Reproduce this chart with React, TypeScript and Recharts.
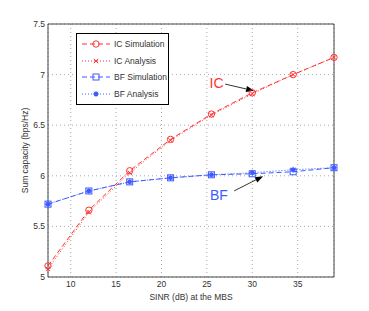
import React from 'react'
import {
  LineChart,
  Line,
  XAxis,
  YAxis,
  CartesianGrid,
  ReferenceLine,
  ReferenceDot,
} from 'recharts'

const sinr = [7.5, 12, 16.5, 21, 25.5, 30, 34.5, 39]
const icSim = [5.11, 5.66, 6.05, 6.36, 6.61, 6.82, 7.0, 7.17]
const icAna = [5.08, 5.64, 6.03, 6.35, 6.6, 6.81, 7.0, 7.17]
const bfSim = [5.72, 5.85, 5.94, 5.98, 6.01, 6.02, 6.04, 6.08]
const bfAna = [5.72, 5.85, 5.94, 5.98, 6.01, 6.03, 6.06, 6.08]
const xTicks = [10, 15, 20, 25, 30, 35]
const yTicks = [5, 5.5, 6, 6.5, 7, 7.5]

const RED = '#ff3333'
const BLUE = '#3f5bff'
const TXT = '#333'
const FONT = '"Liberation Sans", Arial, sans-serif'

const data = sinr.map((x, i) => ({
  x,
  icSim: icSim[i],
  icAna: icAna[i],
  bfSim: bfSim[i],
  bfAna: bfAna[i],
}))

const circleDot = (p: any) => (
  <circle key={p.key} cx={p.cx} cy={p.cy} r={3.2} fill="none" stroke={RED} strokeWidth={1} />
)
const crossDot = (p: any) => (
  <path
    key={p.key}
    d={`M${p.cx - 2.2},${p.cy - 2.2}L${p.cx + 2.2},${p.cy + 2.2}M${p.cx - 2.2},${p.cy + 2.2}L${p.cx + 2.2},${p.cy - 2.2}`}
    stroke={RED}
    strokeWidth={1}
  />
)
const squareDot = (p: any) => (
  <rect key={p.key} x={p.cx - 3} y={p.cy - 3} width={6} height={6} fill="none" stroke={BLUE} strokeWidth={1} />
)
const starDot = (p: any) => (
  <g key={p.key}>
    <circle cx={p.cx} cy={p.cy} r={2.2} fill={BLUE} />
    <path
      d={`M${p.cx - 3},${p.cy}L${p.cx + 3},${p.cy}M${p.cx},${p.cy - 3}L${p.cx},${p.cy + 3}M${p.cx - 2.2},${p.cy - 2.2}L${p.cx + 2.2},${p.cy + 2.2}M${p.cx - 2.2},${p.cy + 2.2}L${p.cx + 2.2},${p.cy - 2.2}`}
      stroke={BLUE}
      strokeWidth={0.8}
    />
  </g>
)

// arrow drawn through the reference line's own coordinates
const arrow = (p: any) => {
  const { x1, y1, x2, y2 } = p
  const a = Math.atan2(y2 - y1, x2 - x1)
  const L = 8
  const W = 3
  const bx = x2 - L * Math.cos(a)
  const by = y2 - L * Math.sin(a)
  const px = -Math.sin(a) * W
  const py = Math.cos(a) * W
  return (
    <g>
      <line x1={x1} y1={y1} x2={bx} y2={by} stroke="#000" strokeWidth={0.8} />
      <polygon points={`${x2},${y2} ${bx + px},${by + py} ${bx - px},${by - py}`} fill="#000" />
    </g>
  )
}

const legendItems = [
  { name: 'IC Simulation', color: RED, dash: '5 3', marker: 'circle' },
  { name: 'IC Analysis', color: RED, dash: '1 2', marker: 'cross' },
  { name: 'BF Simulation', color: BLUE, dash: '5 3', marker: 'square' },
  { name: 'BF Analysis', color: BLUE, dash: '1 2', marker: 'star' },
]

function LegendBox() {
  return (
    <div
      style={{
        position: 'absolute',
        left: 76,
        top: 33,
        width: 91,
        height: 70,
        border: '1px solid #000',
        background: '#fff',
        fontFamily: FONT,
        fontSize: 8.5,
        color: TXT,
      }}
    >
      {legendItems.map((it, i) => (
        <div
          key={it.name}
          style={{ position: 'absolute', left: 4, top: 4 + i * 16.6, height: 12, display: 'flex', alignItems: 'center' }}
        >
          <svg width={30} height={12}>
            <line x1={1} y1={6} x2={29} y2={6} stroke={it.color} strokeDasharray={it.dash} strokeWidth={1} />
            {it.marker === 'circle' && circleDot({ cx: 15, cy: 6, key: 'm' })}
            {it.marker === 'cross' && crossDot({ cx: 15, cy: 6, key: 'm' })}
            {it.marker === 'square' && squareDot({ cx: 15, cy: 6, key: 'm' })}
            {it.marker === 'star' && starDot({ cx: 15, cy: 6, key: 'm' })}
          </svg>
          <span style={{ marginLeft: 3 }}>{it.name}</span>
        </div>
      ))}
    </div>
  )
}

export default function App() {
  return (
    <div style={{ position: 'absolute', left: 0, top: 0, width: 369, height: 311, background: '#fff', fontFamily: FONT }}>
      <LineChart width={369} height={311} data={data} margin={{ top: 24, right: 35, left: 8, bottom: 10 }}>
        <CartesianGrid stroke="#aaa" strokeDasharray="1 3" />
        <XAxis
          dataKey="x"
          type="number"
          domain={[7.5, 39]}
          ticks={xTicks}
          tickLine={false}
          tickSize={0}
          tickMargin={4}
          height={24}
          stroke="#444"
          tick={{ fill: TXT, fontSize: 8.5, fontFamily: FONT }}
          label={{ value: 'SINR (dB) at the MBS', position: 'insideBottom', offset: 1, fill: TXT, fontSize: 8.5, fontFamily: FONT }}
        />
        <YAxis
          type="number"
          domain={[5, 7.5]}
          ticks={yTicks}
          tickLine={false}
          tickSize={0}
          tickMargin={3}
          width={40}
          stroke="#444"
          tick={{ fill: TXT, fontSize: 8.5, fontFamily: FONT }}
          label={{ value: 'Sum capacity (bps/Hz)', angle: -90, position: 'insideLeft', offset: 17, style: { textAnchor: 'middle' }, fill: TXT, fontSize: 8.5, fontFamily: FONT }}
        />
        <ReferenceLine y={7.5} stroke="#444" />
        <ReferenceLine x={39} stroke="#444" />
        <Line dataKey="icSim" stroke={RED} strokeDasharray="5 3" strokeWidth={1} dot={circleDot} isAnimationActive={false} />
        <Line dataKey="icAna" stroke={RED} strokeDasharray="1 2" strokeWidth={1} dot={crossDot} isAnimationActive={false} />
        <Line dataKey="bfSim" stroke={BLUE} strokeDasharray="5 3" strokeWidth={1} dot={squareDot} isAnimationActive={false} />
        <Line dataKey="bfAna" stroke={BLUE} strokeDasharray="1 2" strokeWidth={1} dot={starDot} isAnimationActive={false} />
        <ReferenceLine segment={[{ x: 27.02, y: 6.906 }, { x: 30.2, y: 6.84 }]} shape={arrow} />
        <ReferenceLine segment={[{ x: 28.01, y: 5.851 }, { x: 31.19, y: 5.996 }]} shape={arrow} />
        <ReferenceDot
          x={26.07}
          y={6.913}
          r={0}
          shape={(p: any) => (
            <text x={p.cx} y={p.cy} textAnchor="middle" dominantBaseline="central" fill={RED} fontSize={14} fontFamily={FONT}>
              IC
            </text>
          )}
        />
        <ReferenceDot
          x={26.33}
          y={5.815}
          r={0}
          shape={(p: any) => (
            <text x={p.cx} y={p.cy} textAnchor="middle" dominantBaseline="central" fill={BLUE} fontSize={14} fontFamily={FONT}>
              BF
            </text>
          )}
        />
      </LineChart>
      <LegendBox />
    </div>
  )
}
